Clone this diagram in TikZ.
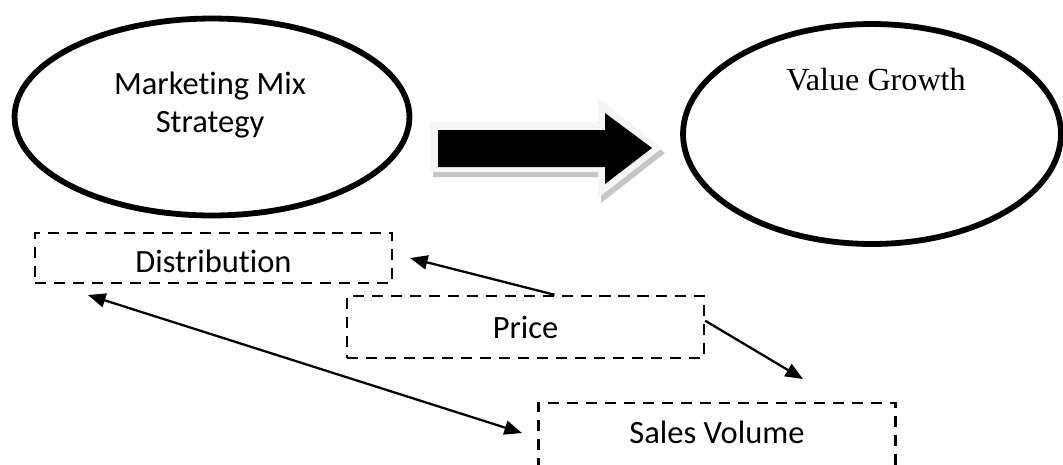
\documentclass[tikz,border=0pt]{standalone}
\usepackage{fontspec}
\setmainfont{Carlito}[Ligatures=NoCommon]
\newfontfamily\growthfont{Liberation Serif}
\usetikzlibrary{shapes.geometric,arrows.meta}

\tikzset{
  bigoval/.style={draw, ellipse, line width=3.3pt, inner sep=0pt},
  factor/.style={draw, dash pattern=on 6.3pt off 4.5pt, line width=1.4pt,
    minimum width=7.14cm, inner sep=0pt, font=\fontsize{18.5}{22}\selectfont},
  link/.style={line width=1.3pt, -{Triangle[length=10pt,width=8pt]}},
  twolink/.style={line width=1.3pt, {Triangle[length=10pt,width=8pt]}-{Triangle[length=10pt,width=8pt]}},
}

\begin{document}
\begin{tikzpicture}[x=0.02cm,y=-0.02cm]
\useasboundingbox (0,0) rectangle (1063,464);
\clip (0,0) rectangle (1063,464);

% the two ovals, their texts sit above the middle
\node[bigoval, minimum width=7.9cm, minimum height=3.94cm] (mix) at (212,117) {};
\node[align=center, font=\fontsize{18.5}{22}\selectfont] (mixtext) at (210,105) {Marketing Mix\\Strategy};
\node[bigoval, minimum width=7.56cm, minimum height=4.4cm] (growth) at (872,134) {};
\node[font=\growthfont\fontsize{18.3}{20}\selectfont] (growthtext) at (876,80) {Value Growth};

% block arrow: shadow, light rim, black body
\fill[gray!45] (433,127) -- (601,127) -- (601,103) -- (665,153) -- (601,203) -- (601,177) -- (433,177) -- cycle;
\fill[gray!8] (430,122) -- (598,122) -- (598,98) -- (662,148) -- (598,198) -- (598,172) -- (430,172) -- cycle;
\fill[black] (438,130) -- (605,130) -- (605,113) -- (652,148) -- (605,184) -- (605,167) -- (438,167) -- cycle;

% dashed factor boxes
\node[factor, minimum height=1.0cm, text height=17pt] (distribution) at (213.5,258) {Distribution};
\node[factor, minimum height=1.24cm] (price) at (525.5,327) {Price};
\node[factor, minimum height=1.32cm, text depth=4.5pt] (sales) at (717,436) {Sales Volume};

% loose arrow ends
\node[coordinate] (distright) at (410,258) {};
\node[coordinate] (distbelow) at (88,295) {};
\node[coordinate] (salesleft) at (522,433) {};
\node[coordinate] (salesabove) at (803,379) {};

\draw[link] (price.48) -- (distright);
\draw[link] (price.2) -- (salesabove);
\draw[twolink] (distbelow) -- (salesleft);
\end{tikzpicture}
\end{document}
